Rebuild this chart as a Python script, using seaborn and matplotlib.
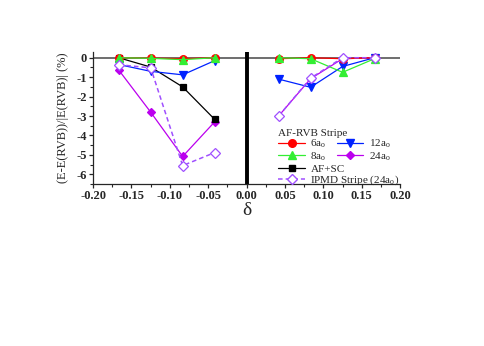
import matplotlib
matplotlib.use("Agg")
import matplotlib.pyplot as plt
import seaborn as sns
from matplotlib.ticker import MultipleLocator
from matplotlib.lines import Line2D

sns.set_style("ticks")
plt.rcParams['font.family'] = ['Liberation Serif', 'DejaVu Serif']
plt.rcParams['mathtext.fontset'] = 'stix'
plt.rcParams['axes.unicode_minus'] = False

# doping values
x_left = [-1/6, -1/8, -1/12, -1/24]
x_right = [1/24, 1/12, 1/8, 1/6]

# relative energies (%)
s6_left = [0.0, -0.02, -0.05, 0.0]
s6_right = [-0.05, 0.0, -0.05, 0.0]
s8_left = [0.0, -0.03, -0.1, 0.0]
s8_right = [0.0, -0.05, -0.75, -0.05]
s12_left = [-0.35, -0.7, -0.88, -0.15]
s12_right = [-1.1, -1.52, -0.45, 0.0]
s24_left = [-0.63, -2.8, -5.08, -3.3]
s24_right = [-3.0, -1.08, -0.05, 0.0]
afsc_left = [0.0, -0.48, -1.5, -3.17]
ipmd_left = [-0.36, -0.52, -5.55, -4.88]
ipmd_right = [-3.0, -1.05, 0.0, 0.0]

RED, GREEN, BLUE, PURPLE, IPMD = '#ff0000', '#33ee33', '#0022ff', '#bb00ee', '#a050ff'

fig = plt.figure(figsize=(4.85, 3.46), dpi=100)
ax = fig.add_axes([0.192, 0.468, 0.633, 0.382])

ax.axhline(0, color='#555555', lw=1.2, zorder=1)
ax.axvline(0, color='black', lw=2.8, zorder=1)


def draw(xs, ys, color, marker, ms, ls='-', mfc=None, lw=0.9, z=2):
    sns.lineplot(x=xs, y=ys, ax=ax, color=color, marker=marker, markersize=ms,
                 linestyle=ls, lw=lw, sort=False, estimator=None,
                 markerfacecolor=mfc if mfc else color, markeredgecolor=color,
                 markeredgewidth=0.9, legend=False, zorder=z)


draw(x_left, s24_left, PURPLE, 'D', 4)
draw(x_right, s24_right, PURPLE, 'D', 4)
draw(x_left, afsc_left, 'black', 's', 5)
draw(x_left, s12_left, BLUE, 'v', 6)
draw(x_right, s12_right, BLUE, 'v', 6)
draw(x_left, s6_left, RED, 'o', 5.5)
draw(x_right, s6_right, RED, 'o', 5.5)
draw(x_left, s8_left, GREEN, '^', 6)
draw(x_right, s8_right, GREEN, '^', 6)
draw(x_left, ipmd_left, IPMD, 'D', 5.5, ls=(0, (3, 2)), mfc='white', lw=1.1, z=3)
draw(x_right, ipmd_right, IPMD, 'D', 5.5, ls=(0, (3, 2)), mfc='white', lw=1.1, z=3)

ax.set_xlim(-0.2, 0.2)
ax.set_ylim(-6.5, 0.3)
ax.xaxis.set_minor_locator(MultipleLocator(0.025))
ax.yaxis.set_minor_locator(MultipleLocator(0.5))
ax.set_xticks([-0.2, -0.15, -0.1, -0.05, 0.0, 0.05, 0.1, 0.15, 0.2])
ax.set_xticklabels(['-0.20', '-0.15', '-0.10', '-0.05', '0.00', '0.05', '0.10', '0.15', '0.20'])
ax.set_yticks([0, -1, -2, -3, -4, -5, -6])
ax.set_yticklabels(['0', '-1', '-2', '-3', '-4', '-5', '-6'])
ax.tick_params(axis='both', which='major', labelsize=9, length=3, width=0.9, pad=1.5)
ax.tick_params(axis='both', which='minor', length=2, width=0.8)
for lab in ax.get_xticklabels() + ax.get_yticklabels():
    lab.set_fontweight('bold')

sns.despine(ax=ax, top=True, right=True)
ax.spines['left'].set_linewidth(0.9)
ax.spines['bottom'].set_linewidth(0.9)

ax.set_xlabel('δ', fontsize=14, labelpad=0)
ax.set_ylabel('(E-E(RVB))/|E(RVB)| (%)', fontsize=9, labelpad=5)

# legends
h6 = Line2D([], [], color=RED, marker='o', ms=5.5, lw=0.9)
h8 = Line2D([], [], color=GREEN, marker='^', ms=6, lw=0.9)
h12 = Line2D([], [], color=BLUE, marker='v', ms=6, lw=0.9)
h24 = Line2D([], [], color=PURPLE, marker='D', ms=4, lw=0.9)
hsc = Line2D([], [], color='black', marker='s', ms=5, lw=0.9)
hip = Line2D([], [], color=IPMD, marker='D', ms=5.5, lw=1.1, ls=(0, (3, 2)),
             markerfacecolor='white')

sub = '$_\\mathregular{o}$'
leg1 = ax.legend([h6, h8, h12, h24], ['6a' + sub, '8a' + sub, '12a' + sub, '24a' + sub],
                 title='AF-RVB Stripe', ncol=2, frameon=False, fontsize=8,
                 title_fontsize=8, loc='lower left', bbox_to_anchor=(0.585, 0.12),
                 handlelength=2.4, columnspacing=0.9, labelspacing=0.0,
                 borderpad=0.0, handletextpad=0.5)
leg1._legend_box.align = 'left'
ax.add_artist(leg1)
ax.legend([hsc, hip], ['AF+SC', 'IPMD Stripe (24a' + sub + ')'],
          frameon=False, fontsize=8, loc='lower left', bbox_to_anchor=(0.585, -0.065),
          handlelength=2.4, labelspacing=0.0, borderpad=0.0, handletextpad=0.5)

fig.savefig('out.png', dpi=100)
